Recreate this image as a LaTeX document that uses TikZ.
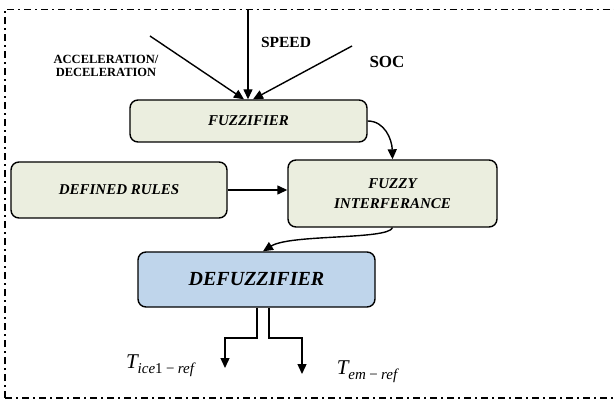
\documentclass[tikz,border=0pt]{standalone}
\usepackage{fontspec}
\setmainfont{Liberation Serif}
\usetikzlibrary{arrows.meta}
\definecolor{boxgreen}{HTML}{EBEEDF}
\definecolor{boxblue}{HTML}{BFD5EB}
\newcommand{\tlabel}[1]{\fontsize{21}{22}\selectfont\itshape T\raisebox{-5pt}{\fontsize{15}{16}\selectfont #1}}
\tikzset{
  blk/.style={draw=black, line width=1.4pt, rounded corners=8pt, align=center,
    inner sep=0pt, font=\bfseries\itshape},
  conn/.style={line width=1.4pt, -{Triangle[length=10pt,width=9pt]}},
  lbl/.style={font=\bfseries, inner sep=0pt, align=center},
}
\begin{document}
\begin{tikzpicture}[x=1pt,y=-1pt]
\useasboundingbox (0,0) rectangle (614,401);
% frame
\draw[line width=1.4pt, dash pattern=on 7pt off 4pt on 2pt off 4pt]
  (5,398) -- (5,9.5) -- (614,9.5);
\draw[line width=1.4pt, dash pattern=on 7pt off 4pt on 2pt off 4pt]
  (5,398) -- (614,398);
% boxes
\node[blk, fill=boxgreen, minimum width=237pt, minimum height=42pt, font=\fontsize{15}{17}\selectfont\bfseries\itshape] (fuzz) at (248.5,121) {FUZZIFIER};
\node[blk, fill=boxgreen, minimum width=216pt, minimum height=56pt, font=\fontsize{15}{17}\selectfont\bfseries\itshape] (rules) at (119,190) {DEFINED RULES};
\node[blk, fill=boxgreen, minimum width=209pt, minimum height=67pt, font=\fontsize{15}{20}\selectfont\bfseries\itshape] (inf) at (392.5,193.5) {FUZZY\\INTERFERANCE};
\node[blk, fill=boxblue, minimum width=237pt, minimum height=55pt, font=\fontsize{20}{22}\selectfont\bfseries\itshape] (defz) at (256.5,279.5) {DEFUZZIFIER};
% input labels
\node[lbl, font=\fontsize{12.5}{13}\selectfont\bfseries] (acc) at (106,66) {ACCELERATION/\\DECELERATION};
\node[lbl, font=\fontsize{15.5}{17}\selectfont\bfseries] (spd) at (286,42) {SPEED};
\node[lbl, font=\fontsize{17}{19}\selectfont\bfseries] (soc) at (387,62) {SOC};
% input lines
\coordinate (a0) at (150,36);
\coordinate (s0) at (248,9.5);
\coordinate (c0) at (352,46);
\draw[conn] (a0) -- (fuzz.north -| 244,0);
\draw[conn] (s0) -- (fuzz.north -| 248,0);
\draw[conn] (c0) -- (fuzz.north -| 253,0);
% internal connectors
\draw[conn] (fuzz.east) .. controls (385,121) and (392,140) .. (inf.north);
\draw[conn] (rules.east) -- (inf.west |- rules.east);
\draw[conn] (inf.south) .. controls (388,240) and (290,234) .. (defz.north -| 263,0);
% outputs
\coordinate (o1) at (225,368);
\coordinate (o2) at (302,374);
\draw[conn] (defz.south -| 257,0) -- (257,338) -| (o1);
\draw[conn] (defz.south -| 269,0) -- (269,338) -| (o2);
\node[inner sep=0pt] (t1) at (160,366) {\tlabel{ice{\upshape 1}\,−\,ref}};
\node[inner sep=0pt] (t2) at (367,372) {\tlabel{em\,−\,ref}};
\end{tikzpicture}
\end{document}
